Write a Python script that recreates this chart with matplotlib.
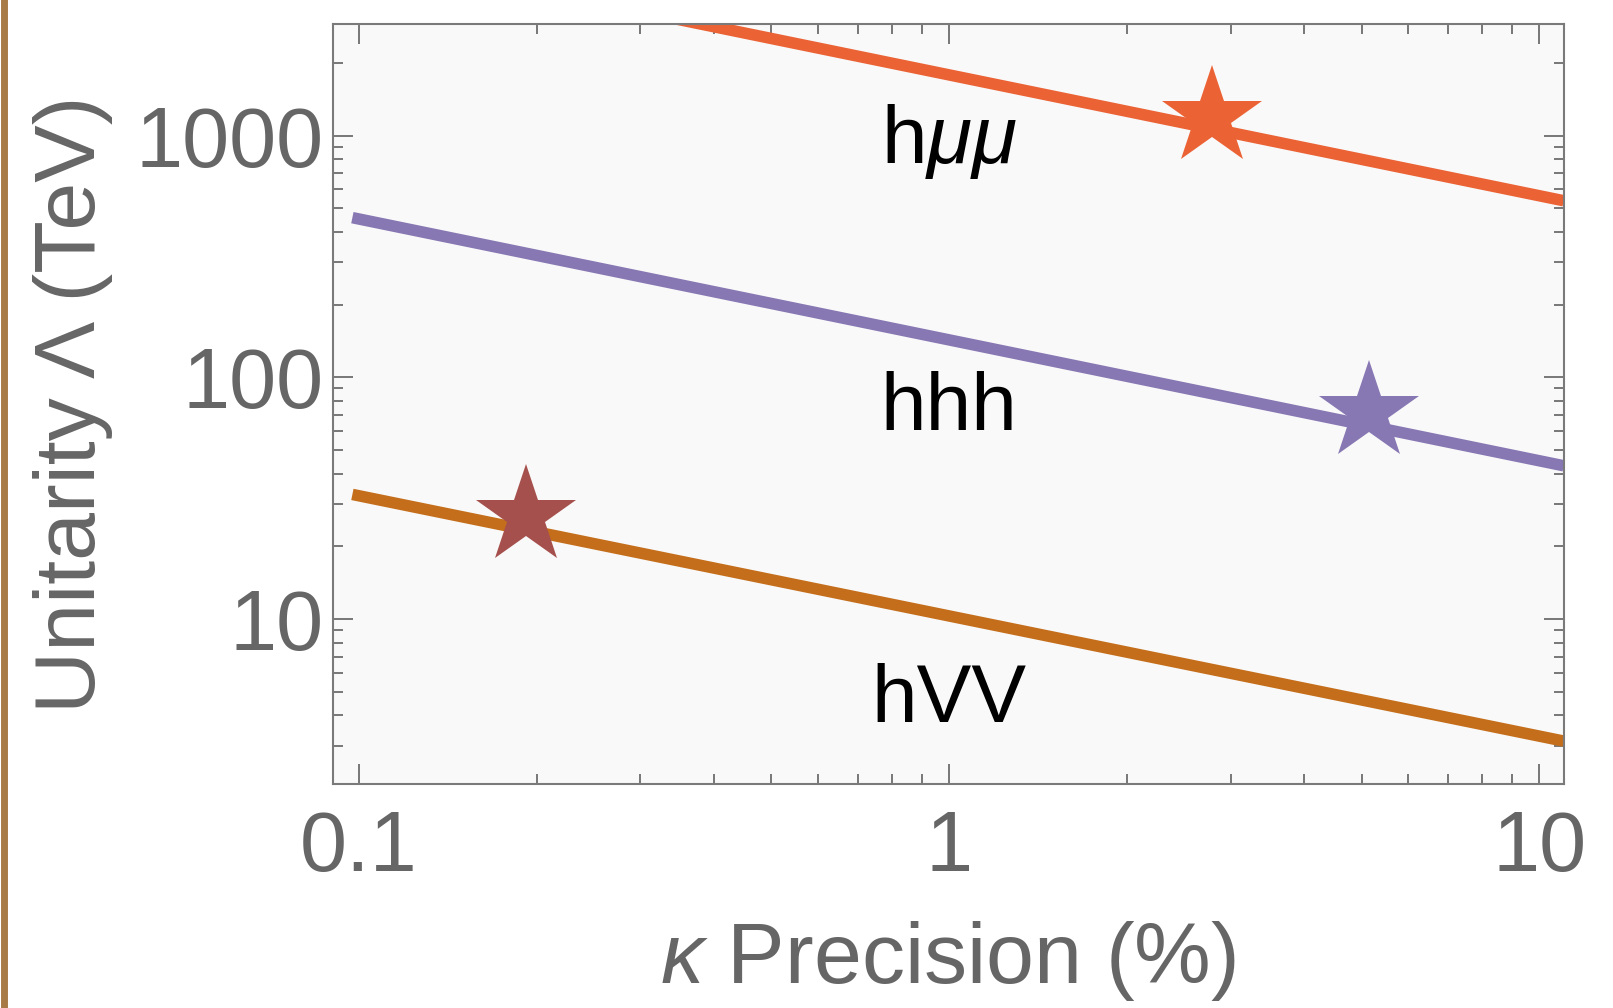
import matplotlib
matplotlib.use('Agg')
import matplotlib.pyplot as plt
from matplotlib.ticker import FixedLocator, FixedFormatter, LogLocator, NullFormatter
from matplotlib.lines import Line2D

plt.rcParams['font.family'] = ['Liberation Sans', 'DejaVu Sans']
plt.rcParams['mathtext.fontset'] = 'custom'
plt.rcParams['mathtext.it'] = 'Liberation Sans:italic'
plt.rcParams['mathtext.rm'] = 'Liberation Sans'

# ---- data ----
series_names = ['hμμ', 'hhh', 'hVV']
kappa_ends = [0.0975, 11.0]
lambda_hmumu = [5713, 538]
lambda_hhh = [458, 43.1]
lambda_hvv = [32.8, 3.13]
star_kappa = [2.79, 5.15, 0.192]
star_lambda = [1198, 71.8, 26.6]
label_texts = ['h$\\mu\\mu$', 'hhh', 'hVV']
label_kappa = [1.0, 1.0, 1.0]
label_lambda = [769, 60.4, 3.75]
x_ticks = [0.1, 1, 10]
x_ticklabels = ['0.1', '1', '10']
y_ticks = [10, 100, 1000]
y_ticklabels = ['10', '100', '1000']
x_limits = (0.0904, 11.0)
y_limits = (2.08, 2897)

line_colors = ['#EB6235', '#8777B3', '#C46E1B']
star_colors = ['#EB6235', '#8777B3', '#A5504C']

fig = plt.figure(figsize=(16.13, 10.08), dpi=100)
ax = fig.add_axes([333 / 1613, 1 - 784 / 1008, (1563.7 - 333) / 1613, (784 - 24) / 1008])
ax.set_facecolor('#F9F9F9')
ax.set_xscale('log')
ax.set_yscale('log')

for vals, c in zip([lambda_hmumu, lambda_hhh, lambda_hvv], line_colors):
    ax.plot(kappa_ends, vals, color=c, lw=8.3, solid_capstyle='butt', zorder=2)

for k, l, c in zip(star_kappa, star_lambda, star_colors):
    ax.plot([k], [l], marker='*', markersize=75.6, color=c, markeredgewidth=0, zorder=3)

for t, k, l in zip(label_texts, label_kappa, label_lambda):
    ax.text(k, l, t, ha='center', va='baseline', fontsize=59, color='black', zorder=4)

ax.set_xlim(*x_limits)
ax.set_ylim(*y_limits)

ax.xaxis.set_major_locator(FixedLocator(x_ticks))
ax.xaxis.set_major_formatter(FixedFormatter(x_ticklabels))
ax.yaxis.set_major_locator(FixedLocator(y_ticks))
ax.yaxis.set_major_formatter(FixedFormatter(y_ticklabels))
ax.xaxis.set_minor_locator(LogLocator(base=10, subs=range(2, 10), numticks=20))
ax.yaxis.set_minor_locator(LogLocator(base=10, subs=range(2, 10), numticks=20))
ax.xaxis.set_minor_formatter(NullFormatter())
ax.yaxis.set_minor_formatter(NullFormatter())

spine_c = '#7a7a7a'
for s in ax.spines.values():
    s.set_color(spine_c)
    s.set_linewidth(1.5)
    s.set_zorder(5)

ax.tick_params(which='both', direction='in', top=True, right=True,
               color=spine_c, width=1.44, labelcolor='#666666', labelsize=61)
ax.tick_params(which='major', length=14.4)
ax.tick_params(which='minor', length=7.2)
ax.tick_params(axis='y', which='major', pad=7)
ax.tick_params(axis='x', which='major', pad=18)

ax.set_xlabel('$\\kappa$ Precision (%)', fontsize=62, color='#666666')
ax.set_ylabel('Unitarity Λ (TeV)', fontsize=62, color='#666666')
ax.xaxis.set_label_coords(0.5, -0.178)
ax.yaxis.set_label_coords(-0.179, 0.5)

fig.add_artist(Line2D([3.5 / 1613, 3.5 / 1613], [0, 1], transform=fig.transFigure,
                      color='#A87A45', lw=5))

fig.savefig('out.png', dpi=100, facecolor='white')
